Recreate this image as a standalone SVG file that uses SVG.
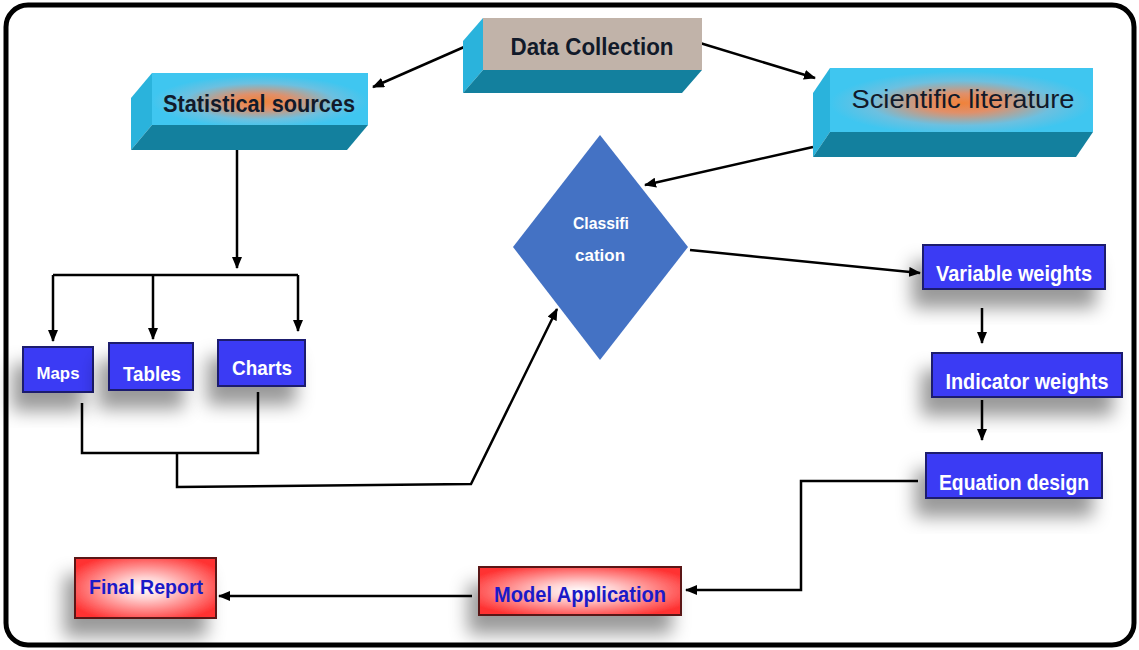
<svg xmlns="http://www.w3.org/2000/svg" width="1139" height="650" viewBox="0 0 1139 650">
<style>
.frame{fill:#fff;stroke:#000;stroke-width:5}
.conn{fill:none;stroke:#000;stroke-width:2.5}
.blue{fill:#3a3af4;stroke:#1b1b6e;stroke-width:2}
.red{fill:url(#redg);stroke:#5a1414;stroke-width:2}
.wt{font-family:"Liberation Sans",Arial,sans-serif;font-weight:bold;fill:#fff}
.bt{font-family:"Liberation Sans",Arial,sans-serif;font-weight:bold;fill:#1a1ac8}
.dt{font-family:"Liberation Sans",Arial,sans-serif;font-weight:bold;fill:#111a2a}
.side{fill:#2ab3dc}
.bottom{fill:#13809e}
</style>
<defs>
<marker id="ah" viewBox="0 0 12 10" refX="11" refY="5" markerWidth="12" markerHeight="10" markerUnits="userSpaceOnUse" orient="auto">
<path d="M0,0 L12,5 L0,10 Z" fill="#000"/>
</marker>
<filter id="sh" x="-40%" y="-40%" width="180%" height="220%">
<feDropShadow dx="-10" dy="18" stdDeviation="9" flood-color="#000" flood-opacity="0.4"/>
</filter>
<radialGradient id="redg" cx="50%" cy="50%" r="60%">
<stop offset="0" stop-color="#ffffff"/>
<stop offset="0.3" stop-color="#ffd0d0"/>
<stop offset="1" stop-color="#ff3030"/>
</radialGradient>
<radialGradient id="cyg" cx="50%" cy="55%" r="50%">
<stop offset="0" stop-color="#f0823a"/>
<stop offset="0.3" stop-color="#e0906a"/>
<stop offset="0.7" stop-color="#6cc0e0"/>
<stop offset="1" stop-color="#3fc6f0"/>
</radialGradient>
<clipPath id="c1"><rect x="923" y="245" width="182" height="44"/></clipPath>
<clipPath id="c2"><rect x="932" y="353" width="190" height="44"/></clipPath>
<clipPath id="c3"><rect x="926" y="453" width="176" height="45"/></clipPath>
</defs>
<rect class="frame" x="6" y="5" width="1128" height="640" rx="22"/>

<g id="connectors">
<path class="conn" d="M480,40 L373,87" marker-end="url(#ah)"/>
<path class="conn" d="M700,43 L815,78" marker-end="url(#ah)"/>
<path class="conn" d="M813,147 L645,185" marker-end="url(#ah)"/>
<path class="conn" d="M237,142 L237,268" marker-end="url(#ah)"/>
<path class="conn" d="M53,275 L298,275"/>
<path class="conn" d="M53,275 L53,341" marker-end="url(#ah)"/>
<path class="conn" d="M153,275 L153,339" marker-end="url(#ah)"/>
<path class="conn" d="M298,275 L298,331" marker-end="url(#ah)"/>
<path class="conn" d="M82,403 L82,453 L258,453 L258,392"/>
<path class="conn" d="M177,453 L177,487 L471,484 L557,309" marker-end="url(#ah)"/>
<path class="conn" d="M690,250 L920,273" marker-end="url(#ah)"/>
<path class="conn" d="M982,308 L982,343" marker-end="url(#ah)"/>
<path class="conn" d="M982,400 L982,440" marker-end="url(#ah)"/>
<path class="conn" d="M918,481 L801,481 L801,590 L686,590" marker-end="url(#ah)"/>
<path class="conn" d="M472,596 L219,596" marker-end="url(#ah)"/>
</g>

<g id="data-collection">
<polygon class="side" points="483,18 463,41 463,93 483,70"/>
<polygon class="bottom" points="483,70 702,70 682,93 463,93"/>
<rect x="483" y="18" width="219" height="52" fill="#c1b3a9"/>
<text class="dt" x="592" y="55" font-size="24" text-anchor="middle" textLength="163" lengthAdjust="spacingAndGlyphs">Data Collection</text>
</g>

<g id="statistical-sources">
<polygon class="side" points="152,73 131,98 131,150 152,125"/>
<polygon class="bottom" points="152,125 368,125 347,150 131,150"/>
<rect x="152" y="73" width="216" height="52" fill="url(#cyg)"/>
<text class="dt" x="259" y="112" font-size="24" text-anchor="middle" textLength="192" lengthAdjust="spacingAndGlyphs">Statistical sources</text>
</g>

<g id="scientific-literature">
<polygon class="side" points="830,68 813,93 813,157 830,132"/>
<polygon class="bottom" points="830,132 1093,132 1076,157 813,157"/>
<rect x="830" y="68" width="263" height="64" fill="url(#cyg)"/>
<text x="963" y="108" font-family="Liberation Sans,Arial,sans-serif" font-size="26" fill="#111a2a" text-anchor="middle" textLength="223" lengthAdjust="spacingAndGlyphs">Scientific literature</text>
</g>

<g id="classification">
<polygon points="600,135 688,247 600,360 513,247" fill="#4472c4"/>
<text class="wt" x="601" y="229" font-size="17" text-anchor="middle" textLength="56" lengthAdjust="spacingAndGlyphs">Classifi</text>
<text class="wt" x="600" y="261" font-size="17" text-anchor="middle" textLength="50" lengthAdjust="spacingAndGlyphs">cation</text>
</g>

<g id="maps">
<rect class="blue" x="23" y="347" width="70" height="45" filter="url(#sh)"/>
<text class="wt" x="58" y="379" font-size="16" text-anchor="middle" textLength="43" lengthAdjust="spacingAndGlyphs">Maps</text>
</g>
<g id="tables">
<rect class="blue" x="109" y="343" width="84" height="47" filter="url(#sh)"/>
<text class="wt" x="152" y="381" font-size="21" text-anchor="middle" textLength="58" lengthAdjust="spacingAndGlyphs">Tables</text>
</g>
<g id="charts">
<rect class="blue" x="218" y="340" width="87" height="46" filter="url(#sh)"/>
<text class="wt" x="262" y="375" font-size="21" text-anchor="middle" textLength="60" lengthAdjust="spacingAndGlyphs">Charts</text>
</g>

<g id="variable-weights">
<rect class="blue" x="923" y="245" width="182" height="44" filter="url(#sh)"/>
<text class="wt" x="1014" y="281" font-size="22" text-anchor="middle" textLength="156" lengthAdjust="spacingAndGlyphs" clip-path="url(#c1)">Variable weights</text>
</g>
<g id="indicator-weights">
<rect class="blue" x="932" y="353" width="190" height="44" filter="url(#sh)"/>
<text class="wt" x="1027" y="389" font-size="22" text-anchor="middle" textLength="163" lengthAdjust="spacingAndGlyphs" clip-path="url(#c2)">Indicator weights</text>
</g>
<g id="equation-design">
<rect class="blue" x="926" y="453" width="176" height="45" filter="url(#sh)"/>
<text class="wt" x="1014" y="490" font-size="22" text-anchor="middle" textLength="150" lengthAdjust="spacingAndGlyphs" clip-path="url(#c3)">Equation design</text>
</g>

<g id="model-application">
<rect class="red" x="479" y="567" width="202" height="48" filter="url(#sh)"/>
<text class="bt" x="580" y="602" font-size="22" text-anchor="middle" textLength="172" lengthAdjust="spacingAndGlyphs">Model Application</text>
</g>
<g id="final-report">
<rect class="red" x="75" y="558" width="141" height="60" filter="url(#sh)"/>
<text class="bt" x="146" y="594" font-size="20" text-anchor="middle" textLength="114" lengthAdjust="spacingAndGlyphs">Final Report</text>
</g>
</svg>
